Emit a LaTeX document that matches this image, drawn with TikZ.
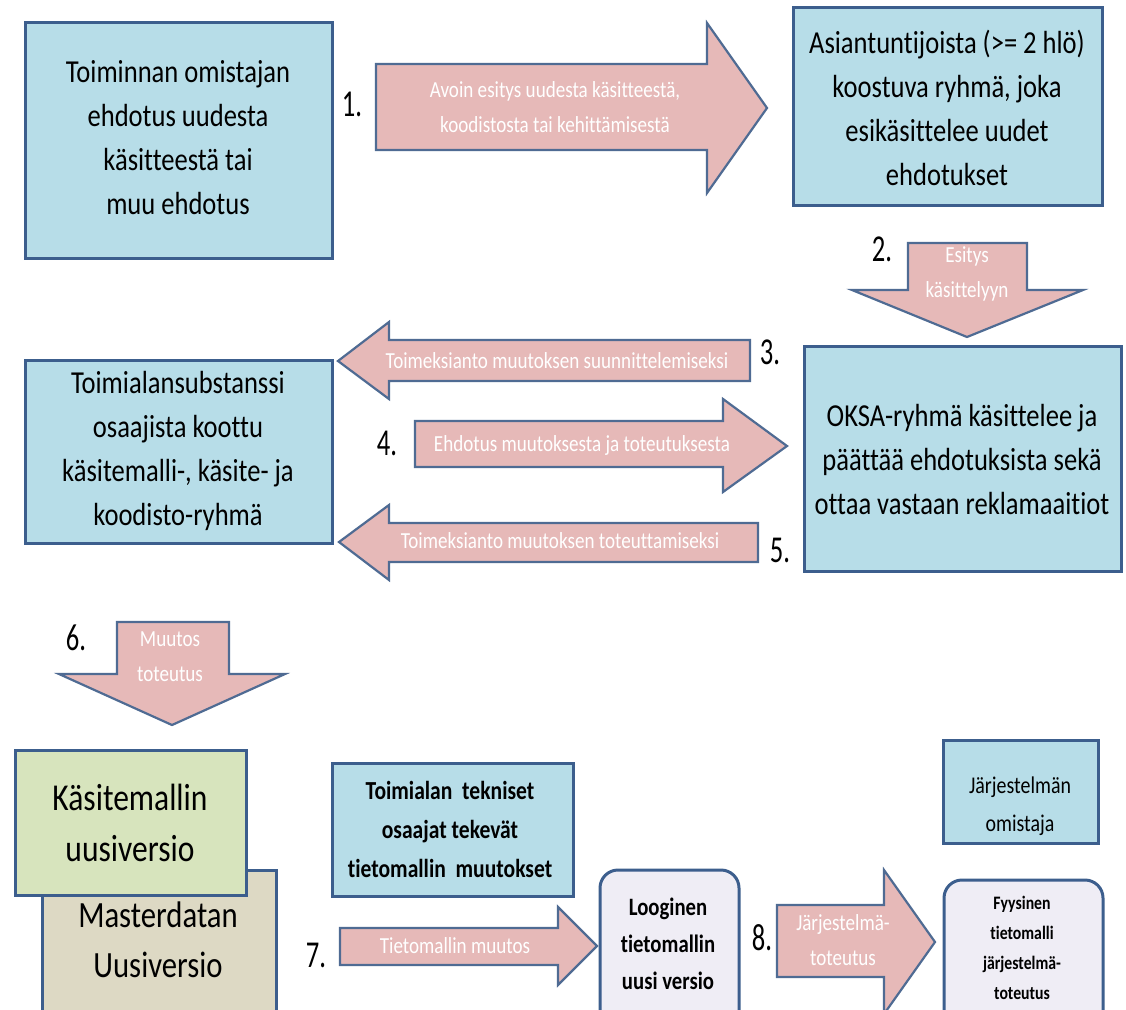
\documentclass[tikz,border=0pt]{standalone}
\usepackage{fontspec}
\newfontfamily\boxfont[FakeStretch=0.83,Ligatures={NoCommon}]{Carlito}
\newfontfamily\numfont[FakeStretch=0.7]{Carlito}
\definecolor{boxblue}{HTML}{B7DDE8}
\definecolor{edgeblue}{HTML}{3C5E8D}
\definecolor{arrowpink}{HTML}{E6B9B8}
\definecolor{arrowedge}{HTML}{4F6B93}
\definecolor{boxgreen}{HTML}{D7E4BD}
\definecolor{boxtan}{HTML}{DDD9C4}
\definecolor{boxlav}{HTML}{EFEDF5}
\begin{document}
\begin{tikzpicture}[x=1pt,y=-1pt,
  bluebox/.style={draw=edgeblue,line width=3pt,fill=boxblue},
  blockarrow/.style={draw=arrowedge,line width=2.2pt,fill=arrowpink,line join=miter},
  boxtext/.style={align=center,text=black,font=\boxfont\fontsize{32}{44}\selectfont},
  arrowtext/.style={align=center,text=white,font=\boxfont\fontsize{23}{35}\selectfont},
  numlabel/.style={text=black,font=\numfont\fontsize{38}{40}\selectfont,inner sep=0pt}]
\useasboundingbox (0,0) rectangle (1126,1009);
\clip (0,0) rectangle (1126,1009);
\fill[white] (0,0) rectangle (1126,1009);

% boxes
\draw[bluebox] (25,22) rectangle (332,258);
\node[boxtext] (ta) at (178,138) {Toiminnan omistajan\\ehdotus uudesta\\käsitteestä tai\\muu ehdotus};

\draw[bluebox] (793,7) rectangle (1102,205);
\node[boxtext] (tb) at (947,108) {Asiantuntijoista (>= 2 hlö)\\koostuva ryhmä, joka\\esikäsittelee uudet\\ehdotukset};

\draw[bluebox] (804,346) rectangle (1121,571);
\node[boxtext] (tc) at (962,459) {OKSA-ryhmä käsittelee ja\\päättää ehdotuksista sekä\\ottaa vastaan reklamaaitiot};

\draw[bluebox] (25,360) rectangle (332,543);
\node[boxtext] (td) at (178,451) {Toimialansubstanssi\\osaajista koottu\\käsitemalli-, käsite- ja\\koodisto-ryhmä};

% bottom-left stacked boxes
\draw[draw=edgeblue,line width=3pt,fill=boxtan] (42,870) rectangle (276,1030);
\node[boxtext,font=\boxfont\fontsize{37}{50}\selectfont] (te) at (158,940) {Masterdatan\\Uusiversio};
\draw[draw=edgeblue,line width=3pt,fill=boxgreen] (15,750) rectangle (246,895);
\node[boxtext,font=\boxfont\fontsize{38}{51}\selectfont] (tf) at (130,823) {Käsitemallin\\uusiversio};

\draw[bluebox] (332,763) rectangle (573,896);
\node[boxtext,font=\boxfont\bfseries\fontsize{26}{39}\selectfont] (tg) at (450,829) {Toimialan\ \ tekniset\\osaajat tekevät\\tietomallin\ \ muutokset};

\draw[draw=edgeblue,line width=3pt,fill=boxlav,rounded corners=18pt] (600,870) rectangle (739,1040);
\node[boxtext,font=\boxfont\bfseries\fontsize{25}{37}\selectfont] (th) at (668,944) {Looginen\\tietomallin\\uusi versio};

\draw[bluebox] (943,740) rectangle (1098,843);
\node[boxtext,font=\boxfont\fontsize{24}{38}\selectfont] (ti) at (1020,806) {Järjestelmän\\omistaja};

\draw[draw=edgeblue,line width=3pt,fill=boxlav,rounded corners=18pt] (944,880) rectangle (1103,1040);
\node[boxtext,font=\boxfont\bfseries\fontsize{19}{30}\selectfont] (tj) at (1022,948) {Fyysinen\\tietomalli\\järjestelmä-\\toteutus};

% block arrows
% 1 right
\draw[blockarrow] (376,64) -- (707,64) -- (707,23) -- (767,108) -- (707,193) -- (707,150) -- (376,150) -- cycle;
\node[arrowtext] (a1) at (555,107) {Avoin esitys uudesta käsitteestä,\\koodistosta tai kehittämisestä};
% 2 down
\draw[blockarrow] (908,243) -- (1027,243) -- (1027,290) -- (1083,290) -- (967,337) -- (852,290) -- (908,290) -- cycle;
\node[arrowtext] (a2) at (967,274) {Esitys\\käsittelyyn};
% 3 left
\draw[blockarrow] (750,340) -- (389,340) -- (389,322) -- (338,361) -- (389,399) -- (389,381) -- (750,381) -- cycle;
\node[arrowtext] (a3) at (557,361) {Toimeksianto muutoksen suunnittelemiseksi};
% 4 right
\draw[blockarrow] (415,421) -- (723,421) -- (723,399) -- (787,446) -- (723,492) -- (723,467) -- (415,467) -- cycle;
\node[arrowtext] (a4) at (582,445) {Ehdotus muutoksesta ja toteutuksesta};
% 5 left
\draw[blockarrow] (758,523) -- (389,523) -- (389,505) -- (339,542) -- (389,580) -- (389,562) -- (758,562) -- cycle;
\node[arrowtext] (a5) at (560,541) {Toimeksianto muutoksen toteuttamiseksi};
% 6 down
\draw[blockarrow] (117,622) -- (229,622) -- (229,674) -- (285,674) -- (172,725) -- (59,674) -- (117,674) -- cycle;
\node[arrowtext] (a6) at (170,657) {Muutos\\toteutus};
% 7 right
\draw[blockarrow] (340,928) -- (558,928) -- (558,907) -- (597,946) -- (558,985) -- (558,965) -- (340,965) -- cycle;
\node[arrowtext] (a7) at (455,946) {Tietomallin muutos};
% 8 right
\draw[blockarrow] (777,905) -- (884,905) -- (884,870) -- (935,942) -- (884,1014) -- (884,977) -- (777,977) -- cycle;
\node[arrowtext] (a8) at (843,940) {Järjestelmä-\\toteutus};

% number labels
\node[numlabel] (n1) at (352,104) {1.};
\node[numlabel] (n2) at (882,249) {2.};
\node[numlabel] (n3) at (770,352) {3.};
\node[numlabel] (n4) at (387,443) {4.};
\node[numlabel] (n5) at (780,550) {5.};
\node[numlabel] (n6) at (76,638) {6.};
\node[numlabel] (n7) at (316,955) {7.};
\node[numlabel] (n8) at (762,938) {8.};
\end{tikzpicture}
\end{document}
